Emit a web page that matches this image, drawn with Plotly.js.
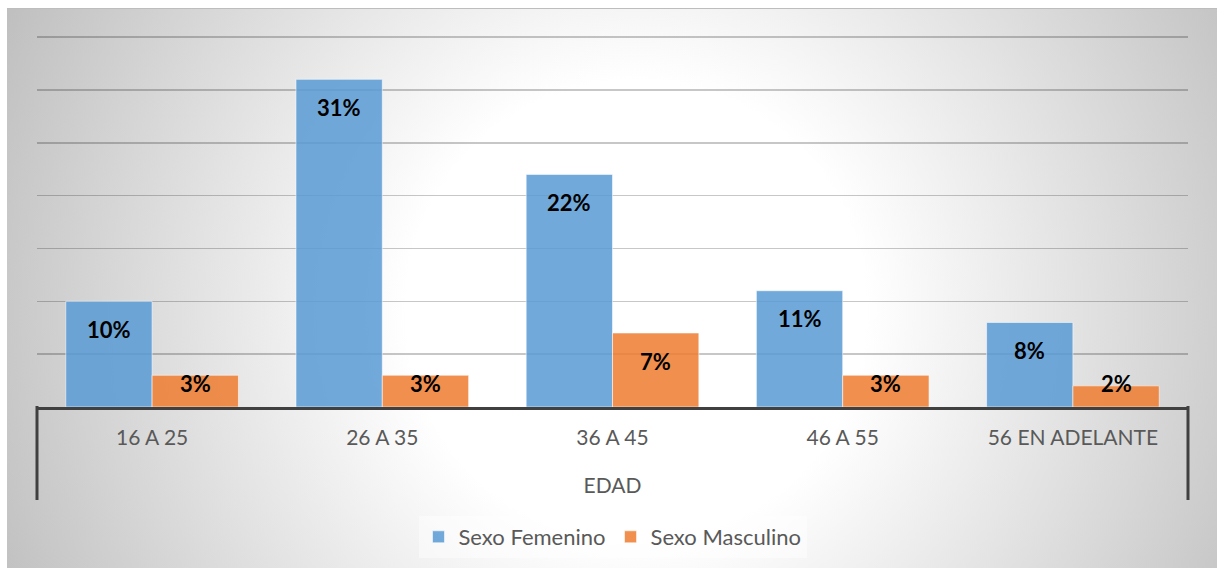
<!DOCTYPE html>
<html>
<head>
<meta charset="utf-8">
<script src="https://cdn.plot.ly/plotly-3.0.1.min.js"></script>
<style>
  html, body { margin: 0; padding: 0; background: #ffffff; }
  #wrap {
    position: absolute; left: 7px; top: 8px; width: 1210px; height: 560px;
    border-top: 1px solid #bdbdbd; box-sizing: border-box;
    background: radial-gradient(circle at 52% 54%, #ffffff 0px, #ffffff 230px, #bfbfbf 700px);
  }
  #chart { width: 1210px; height: 559px; }
</style>
</head>
<body>
<div id="wrap"><div id="chart"></div></div>
<script>
// Age groups and share of respondents (%) by sex
const categories = ['16 A 25', '26 A 35', '36 A 45', '46 A 55', '56 EN ADELANTE'];
const femenino = [10, 31, 22, 11, 8];
const masculino = [3, 3, 7, 3, 2];
const seriesNames = ['Sexo Femenino', 'Sexo Masculino'];
const axisTitle = 'EDAD';

const W = 1210, H = 559;
const M = { l: 30, r: 29, t: 27, b: 160 };
const yMax = 35.1;
const bargap = 0.25;
const plotH = H - M.t - M.b;
const pxPerUnit = plotH / yMax;
const FONT = 'Lato, "Open Sans", sans-serif';

const traces = [
  {
    type: 'bar', name: seriesNames[0], x: categories, y: femenino,
    marker: { color: 'rgba(91,155,213,0.86)', line: { color: 'rgba(255,255,255,0.55)', width: 1 } },
    hoverinfo: 'skip'
  },
  {
    type: 'bar', name: seriesNames[1], x: categories, y: masculino,
    marker: { color: 'rgba(237,125,49,0.86)', line: { color: 'rgba(255,255,255,0.55)', width: 1 } },
    hoverinfo: 'skip'
  }
];

// value labels sit just inside the top of each bar, kept clear of the baseline
const barW = (1 - bargap) / 2;
const annotations = [];
[femenino, masculino].forEach((vals, s) => {
  const off = (s === 0 ? -1 : 1) * barW / 2;
  vals.forEach((v, i) => {
    const inside = v * pxPerUnit - 28;
    const clamp = inside < 24;
    annotations.push({
      x: i + off, y: clamp ? 0 : v, xref: 'x', yref: 'y',
      yshift: clamp ? 24 : -28,
      text: '<b>' + v + '%</b>', showarrow: false,
      font: { family: FONT, size: 22, color: '#000000' },
      xanchor: 'center', yanchor: 'middle'
    });
  });
});

const edge = { color: '#404040', width: 3 };
const shapes = [0, 1].map(px => ({
  type: 'line', xref: 'paper', yref: 'paper', ysizemode: 'pixel', yanchor: 0,
  x0: px, x1: px, y0: 1, y1: -93, line: edge
}));

const layout = {
  width: W, height: H,
  margin: M,
  paper_bgcolor: 'rgba(0,0,0,0)', plot_bgcolor: 'rgba(0,0,0,0)',
  barmode: 'group', bargap: bargap, bargroupgap: 0,
  font: { family: FONT, size: 21, color: '#595959' },
  xaxis: {
    type: 'category', showline: true, linecolor: '#404040', linewidth: 3,
    ticks: '', showgrid: false, zeroline: false, ticklabelstandoff: 10,
    tickfont: { family: FONT, size: 21, color: '#595959' },
    title: { text: axisTitle, font: { family: FONT, size: 21, color: '#595959' }, standoff: 31 },
    fixedrange: true
  },
  yaxis: {
    range: [0, yMax], dtick: 5, tick0: 0, showticklabels: false, ticks: '',
    showgrid: true, gridcolor: 'rgba(0,0,0,0.22)', gridwidth: 1.5,
    zeroline: false, showline: false, fixedrange: true
  },
  showlegend: true,
  legend: {
    orientation: 'h', x: 0.5, xanchor: 'center', y: -129 / plotH, yanchor: 'middle',
    bgcolor: 'rgba(255,255,255,0.45)', font: { family: FONT, size: 22, color: '#595959' },
    itemclick: false, itemdoubleclick: false
  },
  annotations: annotations,
  shapes: shapes
};

Plotly.newPlot('chart', traces, layout, { displayModeBar: false, staticPlot: true });
</script>
</body>
</html>
